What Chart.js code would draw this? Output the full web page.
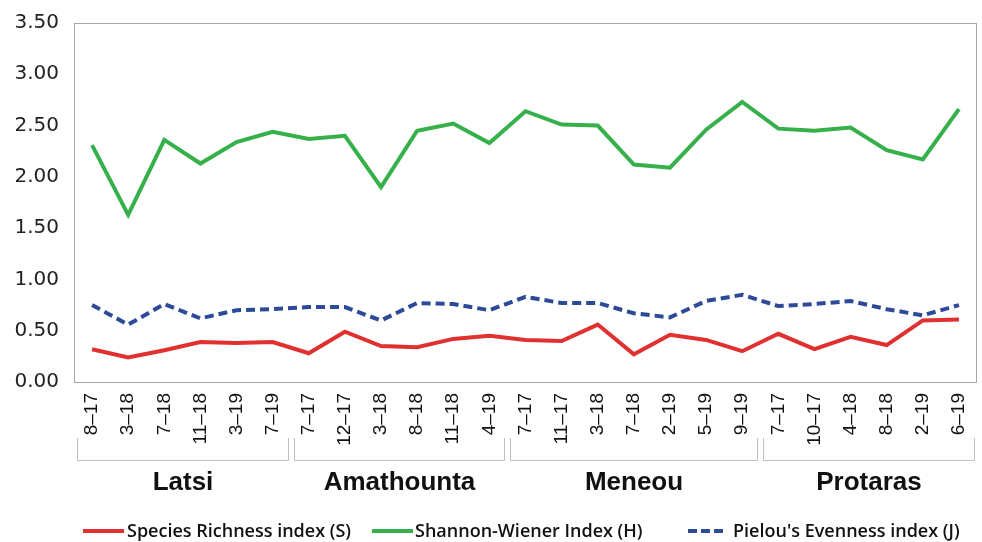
<!DOCTYPE html>
<html>
<head>
<meta charset="utf-8">
<script src="https://cdn.jsdelivr.net/npm/chart.js@4.4.1/dist/chart.umd.min.js"></script>
<style>
  html, body { margin: 0; padding: 0; background: #fff; }
  #wrap { width: 982px; height: 542px; position: relative; }
</style>
</head>
<body>
<div id="wrap"><canvas id="indexChart" width="982" height="542"></canvas></div>
<script>
// sampling dates (month–year), grouped by site
const dates = [
  "8–17", "3–18", "7–18", "11–18", "3–19", "7–19",
  "7–17", "12–17", "3–18", "8–18", "11–18", "4–19",
  "7–17", "11–17", "3–18", "7–18", "2–19", "5–19", "9–19",
  "7–17", "10–17", "4–18", "8–18", "2–19", "6–19"
];
const sites = ["Latsi", "Amathounta", "Meneou", "Protaras"];
const siteCounts = [6, 6, 7, 6];

const richness = [
  0.32, 0.24, 0.31, 0.39, 0.38, 0.39,
  0.28, 0.49, 0.35, 0.34, 0.42, 0.45,
  0.41, 0.40, 0.56, 0.27, 0.46, 0.41, 0.30,
  0.47, 0.32, 0.44, 0.36, 0.60, 0.61
];
const shannon = [
  2.31, 1.63, 2.36, 2.13, 2.34, 2.44,
  2.37, 2.40, 1.90, 2.45, 2.52, 2.33,
  2.64, 2.51, 2.50, 2.12, 2.09, 2.46, 2.73,
  2.47, 2.45, 2.48, 2.26, 2.17, 2.66
];
const evenness = [
  0.75, 0.56, 0.76, 0.62, 0.70, 0.71,
  0.73, 0.73, 0.60, 0.77, 0.76, 0.70,
  0.83, 0.77, 0.77, 0.67, 0.63, 0.79, 0.85,
  0.74, 0.76, 0.79, 0.71, 0.65, 0.75
];

const yTicks = [0, 0.5, 1, 1.5, 2, 2.5, 3, 3.5];

const seriesNames = ["Species Richness index (S)", "Shannon-Wiener Index (H)", "Pielou's Evenness index (J)"];
const seriesColors = ["#e03030", "#36b04a", "#2c4a98"];

const frameColor = "#a6a6a6";

// legend layout (line start, text start) along the bottom
const legendLineX = [83, 372, 688];
const legendTextX = [127, 415, 733];

// box round the plot, site brackets under the dates, and the legend
const extrasPlugin = {
  id: "extras",
  afterDraw(chart) {
    const ctx = chart.ctx;
    const area = chart.chartArea;
    const x = chart.scales.x;

    ctx.save();
    ctx.strokeStyle = frameColor;
    ctx.lineWidth = 1;
    ctx.strokeRect(Math.round(area.left) + 0.5, Math.round(area.top) + 0.5,
      Math.round(area.right - area.left) - 1, Math.round(area.bottom - area.top));

    // brackets + site names
    const step = x.getPixelForValue(1) - x.getPixelForValue(0);
    let start = 0;
    sites.forEach((name, i) => {
      const end = start + siteCounts[i] - 1;
      const x0 = Math.round(x.getPixelForValue(start) - step / 2 + 3) + 0.5;
      const x1 = Math.round(x.getPixelForValue(end) + step / 2 - 3) + 0.5;
      ctx.beginPath();
      ctx.moveTo(x0, 438);
      ctx.lineTo(x0, 460.5);
      ctx.lineTo(x1, 460.5);
      ctx.lineTo(x1, 438);
      ctx.strokeStyle = "#bfbfbf";
      ctx.stroke();

      ctx.fillStyle = "#111";
      ctx.font = "bold 26px 'Liberation Sans', Arial, sans-serif";
      ctx.textAlign = "center";
      ctx.textBaseline = "middle";
      ctx.fillText(name, (x0 + x1) / 2, 483);
      start = end + 1;
    });

    // legend
    ctx.font = "600 18px 'Open Sans', sans-serif";
    ctx.textBaseline = "middle";
    ctx.textAlign = "left";
    const ly = 531;
    seriesNames.forEach((name, i) => {
      const lx = legendLineX[i];
      ctx.beginPath();
      ctx.strokeStyle = seriesColors[i];
      ctx.lineWidth = 4;
      ctx.setLineDash(i === 2 ? [9, 4] : []);
      ctx.moveTo(lx, ly);
      ctx.lineTo(lx + (i === 2 ? 37 : 41), ly);
      ctx.stroke();
      ctx.setLineDash([]);
      ctx.fillStyle = "#111";
      ctx.fillText(name, legendTextX[i], ly + 1);
    });
    ctx.restore();
  }
};

const ctx = document.getElementById("indexChart");

new Chart(ctx, {
  type: "line",
  data: {
    labels: dates,
    datasets: [
      { label: seriesNames[0], data: richness, borderColor: seriesColors[0], borderWidth: 4 },
      { label: seriesNames[1], data: shannon, borderColor: seriesColors[1], borderWidth: 4 },
      { label: seriesNames[2], data: evenness, borderColor: seriesColors[2], borderWidth: 4, borderDash: [9, 5] }
    ]
  },
  options: {
    responsive: false,
    animation: false,
    devicePixelRatio: 1,
    layout: { padding: { top: 23, right: 5, left: 0, bottom: 0 } },
    elements: {
      point: { radius: 0 },
      line: { tension: 0, fill: false, borderCapStyle: "butt", borderJoinStyle: "miter" }
    },
    plugins: {
      legend: { display: false },
      tooltip: { enabled: false }
    },
    scales: {
      x: {
        offset: true,
        grid: { display: false, drawTicks: false },
        border: { display: false },
        ticks: {
          autoSkip: false,
          minRotation: 90,
          maxRotation: 90,
          padding: 11,
          color: "#111",
          font: { family: "'Liberation Sans', Arial, sans-serif", size: 19 }
        },
        afterFit(scale) {
          scale.height = 160;
          scale.paddingLeft = 0;
          scale.paddingRight = 0;
        }
      },
      y: {
        min: 0,
        max: 3.5,
        afterBuildTicks(scale) { scale.ticks = yTicks.map(v => ({ value: v })); },
        grid: { display: false, drawTicks: false },
        border: { display: false },
        ticks: {
          padding: 15,
          color: "#222",
          font: { family: "'DejaVu Sans', sans-serif", size: 20 },
          callback: v => v.toFixed(2)
        },
        afterFit(scale) {
          scale.width = 74;
          scale.paddingTop = 0;
          scale.paddingBottom = 0;
        }
      }
    }
  },
  plugins: [extrasPlugin]
});
</script>
</body>
</html>
